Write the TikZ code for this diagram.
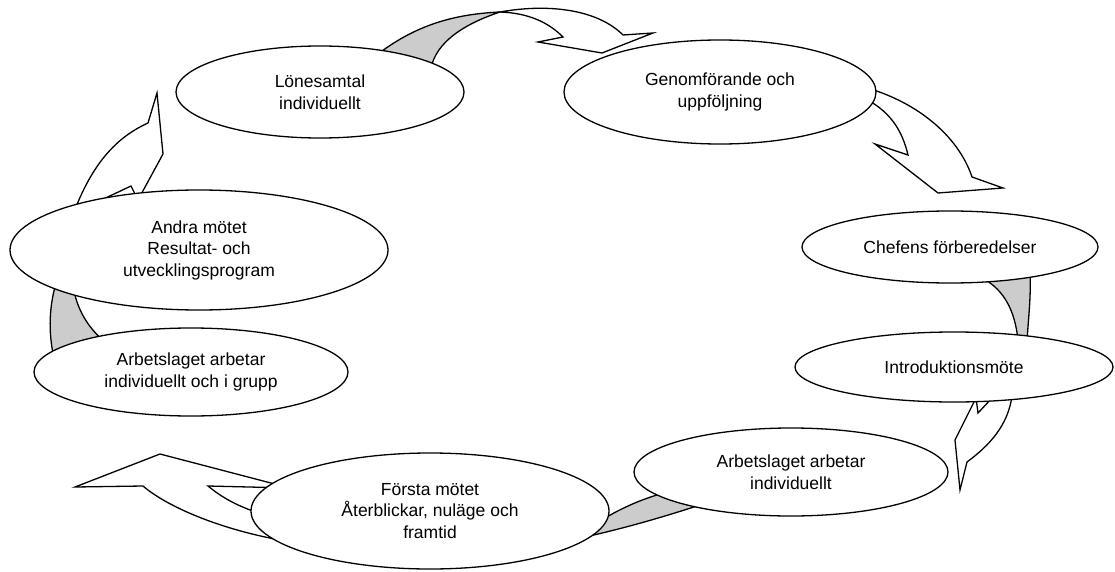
\documentclass[tikz,border=0pt]{standalone}
\usepackage{fontspec}
\setmainfont{Liberation Sans}
\usetikzlibrary{shapes.geometric}
\definecolor{backgray}{RGB}{204,204,204}

\begin{document}
\begin{tikzpicture}[x=1pt,y=-1pt,line width=1.3pt,
    stage/.style={draw,ellipse,fill=white,inner sep=0pt,align=center,font=\fontsize{17.5}{21.5}\selectfont},
    back/.style={draw,fill=backgray},
    front/.style={draw,fill=white}]
\useasboundingbox (0,0) rectangle (1115,572);

% curved arrows, drawn first so the stages cover their ends
\path[back] (378,54) .. controls (420,22) and (460,14) .. (500,12) .. controls (470,22) and (440,38) .. (432,64) -- cycle;
\path[front] (500,12) .. controls (550,3) and (598,10) .. (623,35) -- (653,33) -- (602,53) -- (538,42) -- (563,37) .. controls (548,22) and (528,13) .. (500,12) -- cycle;

\path[front] (860,86) .. controls (915,100) and (958,135) .. (972,177) -- (1003,188) -- (938,193) -- (875,144) -- (908,155) .. controls (902,130) and (890,110) .. (860,96) -- cycle;

\path[back] (982,278) .. controls (1005,290) and (1015,312) .. (1018,340) -- (1027,340) .. controls (1029,312) and (1031,295) .. (1030,272) -- cycle;
\path[front] (1012,396) .. controls (1008,425) and (990,445) .. (967,462) -- (960,490) -- (955,440) -- (976,398) -- (978,413) -- (992,398) -- cycle;

\path[back] (585,537) .. controls (625,528) and (660,518) .. (700,505) -- (660,494) .. controls (640,500) and (622,508) .. (605,518) -- cycle;
\path[front] (280,540) .. controls (215,528) and (165,505) .. (143,486) -- (75,487) -- (160,454) -- (290,488) -- (208,486) .. controls (225,500) and (242,508) .. (265,515) -- cycle;

\path[back] (57,280) .. controls (49,305) and (48,332) .. (54,358) -- (108,345) .. controls (88,328) and (76,310) .. (72,280) -- cycle;
\path[front] (74,212) .. controls (92,165) and (115,138) .. (148,123) -- (157,93) -- (163,154) -- (138,200) -- (131,186) -- (95,203) -- cycle;

% the stages
\foreach \name/\x/\y/\w/\h/\txt in {
    lone/320/92/288/92/{Lönesamtal\\individuellt},
    genom/720/92/312/104/{Genomförande och\\uppföljning},
    chef/950/247/296/72/{Chefens förberedelser},
    intro/954/367/318/70/{Introduktionsmöte},
    arbind/791/472/314/88/{Arbetslaget arbetar\\individuellt},
    forsta/430/511/358/116/{Första mötet\\Återblickar, nuläge och\\framtid},
    arbgrp/191/372/314/88/{Arbetslaget arbetar\\individuellt och i grupp},
    andra/199/250/378/120/{Andra mötet\\Resultat- och\\utvecklingsprogram}}
  \node[stage,minimum width=\w,minimum height=\h] (\name) at (\x,\y) {\txt};
\end{tikzpicture}
\end{document}
